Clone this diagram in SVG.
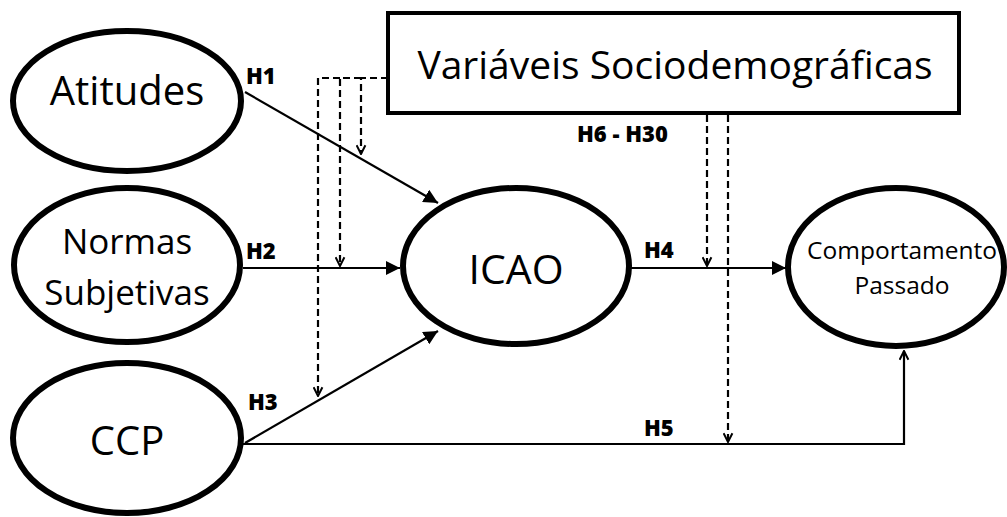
<svg xmlns="http://www.w3.org/2000/svg" width="1007" height="517" viewBox="0 0 1007 517">
  <style>
    .node { fill: #fff; stroke: #000; stroke-width: 6; }
    .box { fill: #fff; stroke: #000; stroke-width: 4; }
    .lbl { font-family: "Open Sans", "Liberation Sans", sans-serif; fill: #000; text-anchor: middle; }
    .hyp { font-family: "Open Sans", "Liberation Sans", sans-serif; font-weight: 800; font-size: 22px; fill: #000; }
    .edge { fill: none; stroke: #000; stroke-width: 2.2; }
    .dash { fill: none; stroke: #000; stroke-width: 2.2; stroke-dasharray: 7 4; }
  </style>
  <defs>
    <marker id="solid" viewBox="0 0 10 10" refX="10" refY="5" markerWidth="6.5" markerHeight="6.5" markerUnits="strokeWidth" orient="auto">
      <path d="M0,0 L10,5 L0,10 z" fill="#000"/>
    </marker>
    <marker id="chev" viewBox="0 0 10 10" refX="9" refY="5" markerWidth="5" markerHeight="5" markerUnits="strokeWidth" orient="auto">
      <path d="M1,1 L9,5 L1,9" fill="none" stroke="#000" stroke-width="1.8"/>
    </marker>
  </defs>

  <!-- connectors -->
  <g id="connectors">
    <path class="edge" d="M245,92 L438,203" marker-end="url(#solid)"/>
    <path class="edge" d="M243,268 L400,268" marker-end="url(#solid)"/>
    <path class="edge" d="M245,443 L438,331" marker-end="url(#solid)"/>
    <path class="edge" d="M630,268 L786,268" marker-end="url(#solid)"/>
    <path class="edge" d="M243,444 L904,444 L904,351" marker-end="url(#chev)"/>
    <!-- moderation paths from the sociodemographic box -->
    <path class="dash" d="M388,78 L361,78 L361,154" marker-end="url(#chev)"/>
    <path class="dash" d="M361,78 L340,78 L340,266" marker-end="url(#chev)"/>
    <path class="dash" d="M340,78 L318,78 L318,396" marker-end="url(#chev)"/>
    <path class="dash" d="M707,115 L707,266" marker-end="url(#chev)"/>
    <path class="dash" d="M728,115 L728,442" marker-end="url(#chev)"/>
  </g>

  <g id="atitudes">
    <ellipse class="node" cx="127" cy="101" rx="114" ry="70"/>
    <text class="lbl" x="127" y="105" font-size="40">Atitudes</text>
  </g>
  <g id="normas">
    <ellipse class="node" cx="127" cy="265" rx="113" ry="77"/>
    <text class="lbl" x="127" y="254" font-size="35">Normas</text>
    <text class="lbl" x="127" y="305" font-size="35">Subjetivas</text>
  </g>
  <g id="ccp">
    <ellipse class="node" cx="127" cy="438" rx="114" ry="75"/>
    <text class="lbl" x="127" y="455" font-size="40">CCP</text>
  </g>
  <g id="icao">
    <ellipse class="node" cx="516" cy="266" rx="113" ry="78"/>
    <text class="lbl" x="516" y="284" font-size="41">ICAO</text>
  </g>
  <g id="comportamento">
    <ellipse class="node" cx="896" cy="267" rx="108" ry="79"/>
    <text class="lbl" x="902" y="259" font-size="24.5">Comportamento</text>
    <text class="lbl" x="902" y="294" font-size="24.5">Passado</text>
  </g>
  <g id="sociodemograficas">
    <rect class="box" x="388" y="13" width="571" height="100"/>
    <text class="lbl" x="675" y="79" font-size="39">Variáveis Sociodemográficas</text>
  </g>

  <g id="labels">
    <text class="hyp" x="246" y="84">H1</text>
    <text class="hyp" x="246" y="259">H2</text>
    <text class="hyp" x="248" y="410">H3</text>
    <text class="hyp" x="644" y="258">H4</text>
    <text class="hyp" x="644" y="436">H5</text>
    <text class="hyp" x="577" y="142">H6 - H30</text>
  </g>
</svg>
